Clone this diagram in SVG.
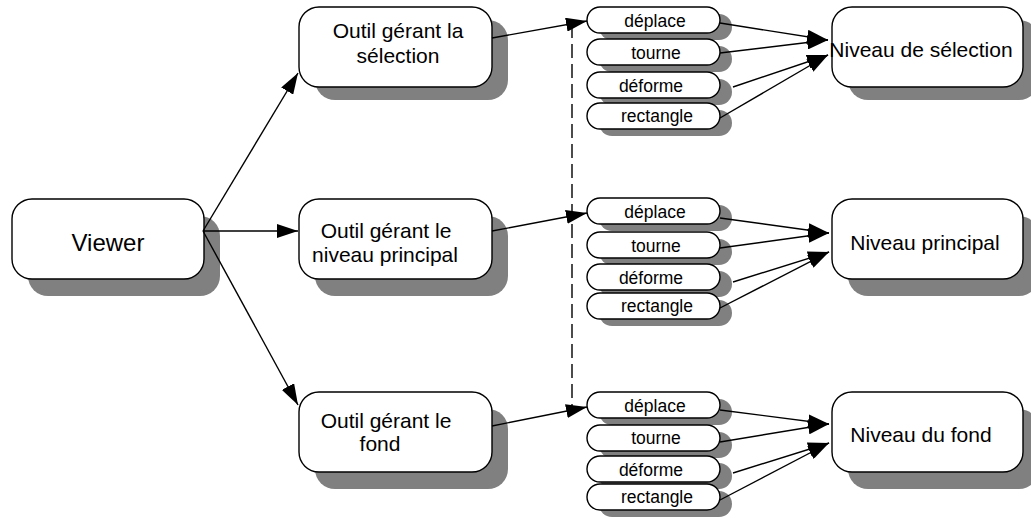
<svg xmlns="http://www.w3.org/2000/svg" width="1031" height="518" viewBox="0 0 1031 518">
<style>
.box{fill:#fff;stroke:#000;stroke-width:1.4}
.sh{fill:#808080}
.t{font-family:"Liberation Sans",Arial,sans-serif;font-size:21px;fill:#000;text-anchor:middle}
.tv{font-family:"Liberation Sans",Arial,sans-serif;font-size:24px;fill:#000;text-anchor:middle}
.tp{font-family:"Liberation Sans",Arial,sans-serif;font-size:17.5px;fill:#000;text-anchor:middle}
.c{fill:none;stroke:#000;stroke-width:1.4}
.d{fill:none;stroke:#000;stroke-width:1.4;stroke-dasharray:14 6}
</style>
<defs>
<marker id="ah" markerUnits="userSpaceOnUse" markerWidth="22" markerHeight="14" refX="21" refY="7" orient="auto">
<path d="M0,0 L21,7 L0,14 z" fill="#000"/>
</marker>
</defs>
<rect width="1031" height="518" fill="#fff"/>

<g id="viewer">
<rect class="sh" x="28" y="216" width="192" height="80" rx="20"/>
<rect class="box" x="12" y="199" width="192" height="80" rx="20"/>
<text class="tv" x="108" y="251">Viewer</text>
</g>

<g id="outil-selection">
<rect class="sh" x="315" y="20" width="193" height="80" rx="20"/>
<rect class="box" x="299" y="7" width="193" height="80" rx="20"/>
<text class="t" x="398" y="38">Outil gérant la</text>
<text class="t" x="398" y="63">sélection</text>
</g>

<g id="outil-principal">
<rect class="sh" x="315" y="216" width="193" height="80" rx="20"/>
<rect class="box" x="299" y="199" width="193" height="80" rx="20"/>
<text class="t" x="386" y="238">Outil gérant le</text>
<text class="t" x="385" y="262">niveau principal</text>
</g>

<g id="outil-fond">
<rect class="sh" x="315" y="409" width="193" height="80" rx="20"/>
<rect class="box" x="299" y="392" width="193" height="80" rx="20"/>
<text class="t" x="386" y="428">Outil gérant le</text>
<text class="t" x="380" y="451">fond</text>
</g>

<g id="niveau-selection">
<rect class="sh" x="848" y="20" width="191" height="80" rx="20"/>
<rect class="box" x="832" y="7" width="191" height="80" rx="20"/>
<text class="t" x="921" y="57">Niveau de sélection</text>
</g>

<g id="niveau-principal">
<rect class="sh" x="848" y="216" width="191" height="80" rx="20"/>
<rect class="box" x="832" y="199" width="191" height="80" rx="20"/>
<text class="t" x="925" y="250">Niveau principal</text>
</g>

<g id="niveau-fond">
<rect class="sh" x="848" y="409" width="191" height="80" rx="20"/>
<rect class="box" x="832" y="392" width="191" height="80" rx="20"/>
<text class="t" x="921" y="442">Niveau du fond</text>
</g>

<g id="g1-deplace"><rect class="sh" x="599" y="14" width="133" height="26" rx="13"/><rect class="box" x="587" y="7" width="133" height="26" rx="13"/><text class="tp" x="655" y="27">déplace</text></g>
<g id="g1-tourne"><rect class="sh" x="599" y="46" width="133" height="26" rx="13"/><rect class="box" x="587" y="39" width="133" height="26" rx="13"/><text class="tp" x="656" y="59">tourne</text></g>
<g id="g1-deforme"><rect class="sh" x="599" y="79" width="133" height="26" rx="13"/><rect class="box" x="587" y="72" width="133" height="26" rx="13"/><text class="tp" x="651" y="92">déforme</text></g>
<g id="g1-rectangle"><rect class="sh" x="599" y="110" width="133" height="26" rx="13"/><rect class="box" x="587" y="103" width="133" height="26" rx="13"/><text class="tp" x="657" y="122">rectangle</text></g>

<g id="g2-deplace"><rect class="sh" x="599" y="205" width="133" height="26" rx="13"/><rect class="box" x="587" y="198" width="133" height="26" rx="13"/><text class="tp" x="655" y="218">déplace</text></g>
<g id="g2-tourne"><rect class="sh" x="599" y="239" width="133" height="26" rx="13"/><rect class="box" x="587" y="232" width="133" height="26" rx="13"/><text class="tp" x="656" y="252">tourne</text></g>
<g id="g2-deforme"><rect class="sh" x="599" y="271" width="133" height="26" rx="13"/><rect class="box" x="587" y="264" width="133" height="26" rx="13"/><text class="tp" x="651" y="284">déforme</text></g>
<g id="g2-rectangle"><rect class="sh" x="599" y="300" width="133" height="26" rx="13"/><rect class="box" x="587" y="293" width="133" height="26" rx="13"/><text class="tp" x="657" y="312">rectangle</text></g>

<g id="g3-deplace"><rect class="sh" x="599" y="399" width="133" height="26" rx="13"/><rect class="box" x="587" y="392" width="133" height="26" rx="13"/><text class="tp" x="655" y="412">déplace</text></g>
<g id="g3-tourne"><rect class="sh" x="599" y="432" width="133" height="26" rx="13"/><rect class="box" x="587" y="425" width="133" height="26" rx="13"/><text class="tp" x="656" y="444">tourne</text></g>
<g id="g3-deforme"><rect class="sh" x="599" y="463" width="133" height="26" rx="13"/><rect class="box" x="587" y="456" width="133" height="26" rx="13"/><text class="tp" x="651" y="476">déforme</text></g>
<g id="g3-rectangle"><rect class="sh" x="599" y="491" width="133" height="26" rx="13"/><rect class="box" x="587" y="484" width="133" height="26" rx="13"/><text class="tp" x="657" y="503">rectangle</text></g>

<g id="connectors">
<line class="d" x1="572" y1="24" x2="572" y2="406"/>
<line class="c" x1="203" y1="231" x2="298" y2="73" marker-end="url(#ah)"/>
<line class="c" x1="203" y1="231" x2="298" y2="231" marker-end="url(#ah)"/>
<line class="c" x1="203" y1="231" x2="298" y2="405" marker-end="url(#ah)"/>
<line class="c" x1="492" y1="38" x2="587" y2="21" marker-end="url(#ah)"/>
<line class="c" x1="492" y1="231" x2="587" y2="213" marker-end="url(#ah)"/>
<line class="c" x1="492" y1="426" x2="587" y2="407" marker-end="url(#ah)"/>

<line class="c" x1="720" y1="23" x2="828" y2="40" marker-end="url(#ah)"/>
<line class="c" x1="720" y1="53" x2="828" y2="40" marker-end="url(#ah)"/>
<line class="c" x1="733" y1="87" x2="828" y2="55" marker-end="url(#ah)"/>
<line class="c" x1="720" y1="118" x2="828" y2="55" marker-end="url(#ah)"/>

<line class="c" x1="720" y1="218" x2="829" y2="233" marker-end="url(#ah)"/>
<line class="c" x1="720" y1="248" x2="829" y2="233" marker-end="url(#ah)"/>
<line class="c" x1="733" y1="282" x2="829" y2="252" marker-end="url(#ah)"/>
<line class="c" x1="720" y1="308" x2="829" y2="252" marker-end="url(#ah)"/>

<line class="c" x1="720" y1="410" x2="829" y2="424" marker-end="url(#ah)"/>
<line class="c" x1="720" y1="442" x2="829" y2="424" marker-end="url(#ah)"/>
<line class="c" x1="733" y1="473" x2="829" y2="443" marker-end="url(#ah)"/>
<line class="c" x1="720" y1="500" x2="829" y2="443" marker-end="url(#ah)"/>
</g>
</svg>
